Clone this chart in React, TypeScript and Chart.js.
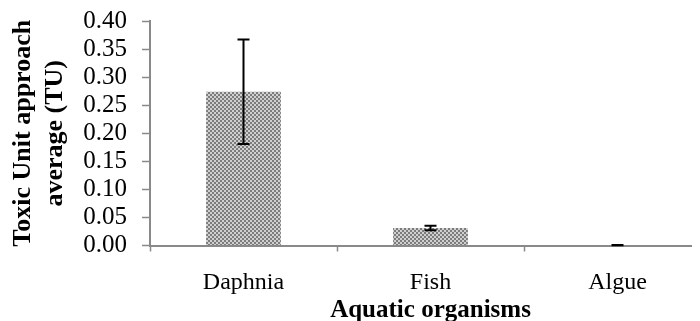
import { useEffect, useRef } from "react";
import { Chart, registerables } from "chart.js";

Chart.register(...registerables);

const categories = ["Daphnia", "Fish", "Algue"];
const meanTU = [0.274, 0.031, 0.0008];
const errorTU = [0.093, 0.004, 0.0003];
const yTicksMin = 0;
const yTicksMax = 0.4;
const yTickStep = 0.05;
const yTitle = ["Toxic Unit approach", "average (TU)"];
const xTitle = "Aquatic organisms";

const AXIS_GRAY = "#898989";
const FONT = "'Liberation Serif', 'Times New Roman', serif";

function makePattern(): CanvasPattern | string {
  const c = document.createElement("canvas");
  c.width = 4;
  c.height = 4;
  const g = c.getContext("2d");
  if (!g) return "#a8a8a8";
  g.fillStyle = "#d0d0d0";
  g.fillRect(0, 0, 4, 4);
  g.fillStyle = "#7c7c7c";
  g.fillRect(0, 0, 2, 2);
  g.fillRect(2, 2, 2, 2);
  const ctx = document.createElement("canvas").getContext("2d");
  const p = ctx ? ctx.createPattern(c, "repeat") : null;
  return p || "#a8a8a8";
}

export default function App() {
  const ref = useRef<HTMLCanvasElement>(null);

  useEffect(() => {
    const canvas = ref.current;
    if (!canvas) return;

    const errorBars = {
      id: "errorBars",
      afterDatasetsDraw(chart: any) {
        const ctx = chart.ctx;
        const yScale = chart.scales.y;
        const meta = chart.getDatasetMeta(0);
        ctx.save();
        ctx.strokeStyle = "#000";
        ctx.lineWidth = 2;
        meta.data.forEach((el: any, i: number) => {
          const x = el.x;
          const top = yScale.getPixelForValue(meanTU[i] + errorTU[i]);
          const bot = yScale.getPixelForValue(Math.max(meanTU[i] - errorTU[i], 0));
          const half = 6;
          ctx.beginPath();
          ctx.moveTo(x, top);
          ctx.lineTo(x, bot);
          ctx.moveTo(x - half, top);
          ctx.lineTo(x + half, top);
          ctx.moveTo(x - half, bot);
          ctx.lineTo(x + half, bot);
          ctx.stroke();
        });
        ctx.restore();
      },
    };

    const chart = new Chart(canvas, {
      type: "bar",
      data: {
        labels: categories,
        datasets: [
          {
            data: meanTU,
            backgroundColor: makePattern() as any,
            borderWidth: 0,
            categoryPercentage: 1,
            barPercentage: 0.4,
          },
        ],
      },
      options: {
        responsive: false,
        animation: false,
        layout: { padding: { top: 13, left: 0, right: 0, bottom: 0 } },
        plugins: {
          legend: { display: false },
          tooltip: { enabled: false },
        },
        scales: {
          x: {
            grid: {
              offset: true,
              drawOnChartArea: false,
              tickLength: 6,
              tickColor: AXIS_GRAY,
              tickWidth: 1.5,
            },
            border: { color: AXIS_GRAY, width: 2 },
            ticks: {
              color: "#000",
              padding: 17,
              font: { family: FONT, size: 24 },
            },
            title: {
              display: true,
              text: xTitle,
              color: "#000",
              font: { family: FONT, size: 25, weight: "bold", lineHeight: 1 },
              padding: { top: 0, bottom: -2.5 },
            },
            afterFit(s: any) {
              s.height = 75.5;
            },
          },
          y: {
            min: yTicksMin,
            max: yTicksMax,
            grid: {
              drawOnChartArea: false,
              tickLength: 8,
              tickColor: AXIS_GRAY,
              tickWidth: 1.5,
            },
            border: { color: AXIS_GRAY, width: 2 },
            ticks: {
              stepSize: yTickStep,
              autoSkip: false,
              color: "#000",
              padding: 15,
              font: { family: FONT, size: 25, lineHeight: 1 },
              callback: (v: any) => Number(v).toFixed(2),
            },
            title: {
              display: true,
              text: yTitle,
              color: "#000",
              font: { family: FONT, size: 26, weight: "bold", lineHeight: 1.2 },
              padding: { top: 0, bottom: 0 },
            },
            afterFit(s: any) {
              s.width = 142;
              s.paddingTop = 0;
              s.paddingBottom = 0;
            },
          },
        },
      },
      plugins: [errorBars],
    });

    return () => chart.destroy();
  }, []);

  return (
    <div style={{ width: 692, height: 313, overflow: "hidden" }}>
      <canvas ref={ref} width={703} height={313} style={{ display: "block" }} />
    </div>
  );
}
